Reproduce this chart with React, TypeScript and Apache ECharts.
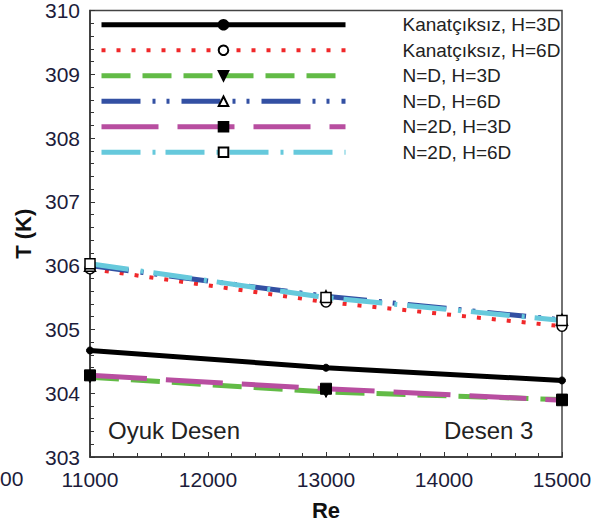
import React, { useEffect, useRef } from "react";
import * as echarts from "echarts";

// Reynolds numbers where temperatures were evaluated
const reValues = [11000, 13000, 15000];

// Temperature (K) per configuration
const kanatciksizH3D = [304.67, 304.4, 304.2];
const kanatciksizH6D = [305.95, 305.43, 305.05];
const nDH3D = [304.25, 304.02, 303.9];
const nDH6D = [306.0, 305.52, 305.15];
const n2DH3D = [304.28, 304.07, 303.89];
const n2DH6D = [306.03, 305.5, 305.14];

const seriesNames = [
  "Kanatçıksız, H=3D",
  "Kanatçıksız, H=6D",
  "N=D, H=3D",
  "N=D, H=6D",
  "N=2D, H=3D",
  "N=2D, H=6D",
];

const xTicks = { min: 11000, max: 15000, step: 1000 };
const yTicks = { min: 303, max: 310, step: 1 };

const tickFont = "'Liberation Sans Narrow', 'Arial Narrow', 'Liberation Sans', Arial, sans-serif";
const textFont = "'Liberation Sans', Arial, sans-serif";

function pairs(values: number[]) {
  return reValues.map((x, i) => [x, values[i]]);
}

export default function App() {
  const ref = useRef<HTMLDivElement>(null);

  useEffect(() => {
    if (!ref.current) return;
    const chart = echarts.init(ref.current, undefined, { renderer: "svg" });

    const mk = (
      name: string,
      values: number[],
      color: string,
      dash: number[] | "solid",
      width: number,
      symbol: string,
      symbolSize: number,
      filled: boolean,
      rotate = 0
    ) => ({
      name,
      type: "line",
      data: pairs(values),
      symbol,
      symbolSize,
      symbolRotate: rotate,
      showSymbol: true,
      lineStyle: { color, width, type: dash, cap: "butt" },
      itemStyle: filled
        ? { color: "#000", borderColor: "#000", borderWidth: 1 }
        : { color: "#fff", borderColor: "#000", borderWidth: 1.5 },
      emphasis: { disabled: true },
    });

    chart.setOption({
      animation: false,
      grid: {
        left: 90,
        right: 35,
        top: 9,
        bottom: 71,
        show: true,
        borderColor: "#444",
        borderWidth: 1.5,
      },
      legend: {
        orient: "vertical",
        left: 99,
        top: 12,
        padding: 0,
        itemWidth: 244,
        itemHeight: 12,
        itemGap: 0,
        data: seriesNames,
        selectedMode: false,
        lineStyle: { width: "inherit" },
        textStyle: {
          fontFamily: textFont,
          fontSize: 19,
          lineHeight: 25.5,
          color: "#222",
          padding: [0, 0, 0, 52],
        },
      },
      xAxis: {
        type: "value",
        min: xTicks.min,
        max: xTicks.max,
        interval: xTicks.step,
        name: "Re",
        nameLocation: "middle",
        nameGap: 42,
        nameTextStyle: { fontFamily: textFont, fontSize: 22, fontWeight: "bold", color: "#111" },
        axisLine: { lineStyle: { color: "#333", width: 1.5 } },
        axisTick: { inside: true, length: 5, lineStyle: { color: "#333" } },
        minorTick: { show: true, splitNumber: 5, length: 4, lineStyle: { color: "#333" } },
        splitLine: { show: false },
        axisLabel: {
          fontFamily: tickFont,
          fontSize: 21,
          color: "#1c1c3a",
          margin: 12,
          formatter: (v: number) => String(v),
        },
      },
      yAxis: {
        type: "value",
        min: yTicks.min,
        max: yTicks.max,
        interval: yTicks.step,
        name: "T (K)",
        nameLocation: "middle",
        nameGap: 52,
        nameTextStyle: { fontFamily: textFont, fontSize: 22, fontWeight: "bold", color: "#111" },
        axisLine: { show: true, lineStyle: { color: "#333", width: 1.5 } },
        axisTick: { show: true, inside: true, length: 5, lineStyle: { color: "#333" } },
        minorTick: { show: true, splitNumber: 5, length: 4, lineStyle: { color: "#333" } },
        splitLine: { show: false },
        axisLabel: {
          fontFamily: tickFont,
          fontSize: 21,
          color: "#1c1c3a",
          margin: 10,
        },
      },
      graphic: [
        {
          type: "text",
          left: 108,
          top: 418,
          style: { text: "Oyuk Desen", fontFamily: textFont, fontSize: 24, fill: "#222" },
        },
        {
          type: "text",
          left: 444,
          top: 418,
          style: { text: "Desen 3", fontFamily: textFont, fontSize: 24, fill: "#222" },
        },
        {
          type: "text",
          left: 0,
          top: 468,
          style: { text: "00", fontFamily: tickFont, fontSize: 21, fill: "#1c1c3a" },
        },
      ],
      series: [
        mk(seriesNames[0], kanatciksizH3D, "#000", "solid", 5, "circle", 7, true),
        mk(seriesNames[1], kanatciksizH6D, "#f0282a", [4, 11], 4, "circle", 10, false),
        mk(seriesNames[2], nDH3D, "#62bb46", [29, 12], 5, "triangle", 11, true, 180),
        mk(seriesNames[3], nDH6D, "#3350a3", [39, 12, 3, 11, 3, 12], 5, "triangle", 11, false),
        mk(seriesNames[4], n2DH3D, "#b84ea0", [57, 19], 5, "rect", 11, true),
        mk(seriesNames[5], n2DH6D, "#66c9dc", [39, 12, 3, 10], 5, "rect", 10, false),
      ],
    });

    return () => chart.dispose();
  }, []);

  return (
    <div
      ref={ref}
      style={{ position: "absolute", left: 0, top: 0, width: 597, height: 528 }}
    />
  );
}
